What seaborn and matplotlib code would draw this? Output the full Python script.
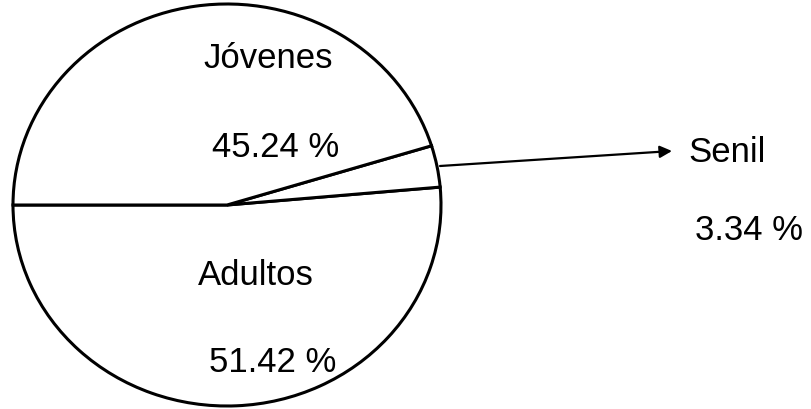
import matplotlib.pyplot as plt
import seaborn as sns

sns.set_style("white")
plt.rcParams['font.family'] = ['Liberation Sans', 'DejaVu Sans']
plt.rcParams['text.color'] = 'black'

# data
groups = ["Adultos", "Senil", "Jóvenes"]
shares = [51.42, 3.34, 45.24]

W, H = 812, 410
cx, cy = 227, 206      # pie centre in pixels (from top-left)
rx, ry = 214, 201      # scan is a bit stretched horizontally


def px(x, y):
    # pixel position -> data coords of the unit pie
    return (x - cx) / rx, (cy - y) / ry


fig = plt.figure(figsize=(W / 100, H / 100), dpi=100)
ax = fig.add_axes([0, 0, 1, 1])

ax.pie(shares, startangle=180, counterclock=True, radius=1, center=(0, 0),
       wedgeprops=dict(facecolor='white', edgecolor='black', linewidth=2.2))
ax.set_aspect('auto')
ax.set_xlim(px(0, 0)[0], px(W, 0)[0])
ax.set_ylim(px(0, H)[1], px(0, 0)[1])
ax.axis('off')

fs = 25
lab = dict(zip(groups, shares))

ax.text(*px(203, 68), "Jóvenes", fontsize=fs, ha='left', va='baseline')
ax.text(*px(212, 157), f"{lab['Jóvenes']:.2f} %", fontsize=fs, ha='left', va='baseline')
ax.text(*px(198, 285), "Adultos", fontsize=fs, ha='left', va='baseline')
ax.text(*px(209, 372), f"{lab['Adultos']:.2f} %", fontsize=fs, ha='left', va='baseline')

ax.annotate("", xy=px(672, 152), xytext=px(440, 167),
            arrowprops=dict(arrowstyle='-|>', color='black', lw=1.6,
                            mutation_scale=18, shrinkA=0, shrinkB=0))
ax.text(*px(688, 162), "Senil", fontsize=fs, ha='left', va='baseline')
ax.text(*px(695, 240), f"{lab['Senil']:.2f} %", fontsize=fs, ha='left', va='baseline')

fig.savefig("out.png", dpi=100, facecolor='white')
